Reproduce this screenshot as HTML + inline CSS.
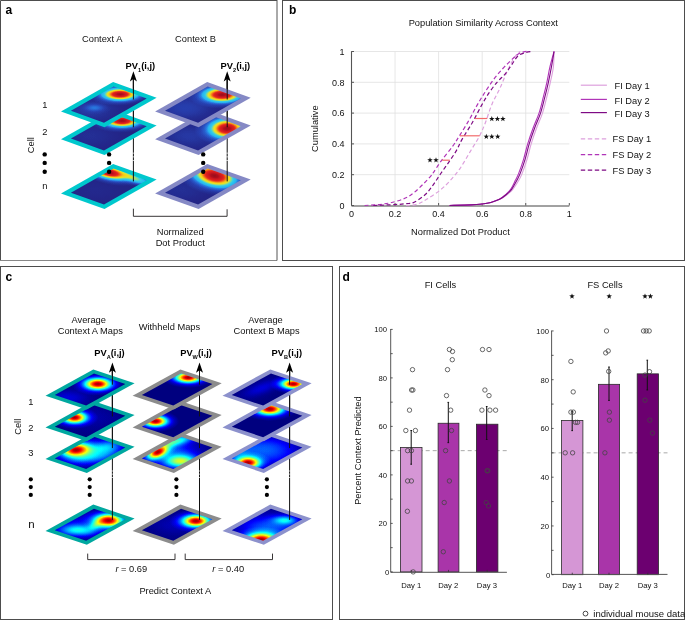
<!DOCTYPE html>
<html><head><meta charset="utf-8"><title>Figure</title>
<style>html,body{margin:0;padding:0;background:#fff;}body{width:685px;height:620px;overflow:hidden;font-family:"Liberation Sans", sans-serif;}svg{display:block;will-change:transform;}</style>
</head><body><svg width="685" height="620" viewBox="0 0 685 620" font-family='"Liberation Sans", sans-serif'><defs><filter id="jc" x="-0.2" y="-0.2" width="1.4" height="1.4" color-interpolation-filters="sRGB"><feComponentTransfer><feFuncR type="table" tableValues="0 0 0 0 0 0 0 0 0 0 0 0 0 0 0 0 0.1 0.2 0.3 0.4 0.5 0.6 0.7 0.8 0.9 1 1 1 1 1 1 1 1 1 1 1 0.9 0.8 0.7 0.6 0.5"/><feFuncG type="table" tableValues="0 0 0 0 0 0 0.1 0.2 0.3 0.4 0.5 0.6 0.7 0.8 0.9 1 1 1 1 1 1 1 1 1 1 1 0.9 0.8 0.7 0.6 0.5 0.4 0.3 0.2 0.1 0 0 0 0 0 0"/><feFuncB type="table" tableValues="0.5 0.6 0.7 0.8 0.9 1 1 1 1 1 1 1 1 1 1 1 0.9 0.8 0.7 0.6 0.5 0.4 0.3 0.2 0.1 0 0 0 0 0 0 0 0 0 0 0 0 0 0 0 0"/></feComponentTransfer></filter><filter id="ja" x="-0.2" y="-0.2" width="1.4" height="1.4" color-interpolation-filters="sRGB"><feComponentTransfer><feFuncR type="table" tableValues="0.13 0.14 0.14 0.14 0.15 0.15 0.16 0.16 0.16 0.16 0.16 0.16 0.16 0.17 0.18 0.19 0.3 0.42 0.55 0.68 0.82 0.92 0.94 0.95 0.96 0.96 0.96 0.96 0.95 0.93 0.92 0.9 0.87 0.85 0.83 0.81 0.78 0.73 0.67 0.61 0.55"/><feFuncG type="table" tableValues="0.13 0.14 0.15 0.18 0.22 0.25 0.3 0.36 0.42 0.49 0.59 0.69 0.73 0.75 0.78 0.8 0.82 0.84 0.86 0.87 0.89 0.89 0.85 0.82 0.78 0.69 0.59 0.49 0.39 0.29 0.2 0.15 0.13 0.12 0.11 0.09 0.08 0.07 0.06 0.05 0.05"/><feFuncB type="table" tableValues="0.47 0.5 0.54 0.58 0.64 0.69 0.75 0.79 0.84 0.89 0.91 0.94 0.94 0.93 0.93 0.92 0.82 0.68 0.55 0.4 0.25 0.13 0.12 0.11 0.1 0.1 0.1 0.1 0.1 0.11 0.12 0.12 0.12 0.12 0.12 0.12 0.12 0.12 0.11 0.11 0.11"/></feComponentTransfer></filter><clipPath id="cl1"><polygon points="113.63,168.44 146.69,180.37 103.97,204.56 70.91,192.63"/></clipPath><radialGradient id="gs6"><stop offset="0" stop-color="rgb(15,15,15)" stop-opacity="1.000"/><stop offset="0.1" stop-color="rgb(15,15,15)" stop-opacity="0.956"/><stop offset="0.2" stop-color="rgb(15,15,15)" stop-opacity="0.835"/><stop offset="0.3" stop-color="rgb(15,15,15)" stop-opacity="0.667"/><stop offset="0.4" stop-color="rgb(15,15,15)" stop-opacity="0.487"/><stop offset="0.5" stop-color="rgb(15,15,15)" stop-opacity="0.325"/><stop offset="0.6" stop-color="rgb(15,15,15)" stop-opacity="0.198"/><stop offset="0.7" stop-color="rgb(15,15,15)" stop-opacity="0.110"/><stop offset="0.8" stop-color="rgb(15,15,15)" stop-opacity="0.056"/><stop offset="0.9" stop-color="rgb(15,15,15)" stop-opacity="0.026"/><stop offset="1" stop-color="rgb(15,15,15)" stop-opacity="0.000"/></radialGradient><radialGradient id="gs44"><stop offset="0" stop-color="rgb(112,112,112)" stop-opacity="1.000"/><stop offset="0.1" stop-color="rgb(112,112,112)" stop-opacity="0.956"/><stop offset="0.2" stop-color="rgb(112,112,112)" stop-opacity="0.835"/><stop offset="0.3" stop-color="rgb(112,112,112)" stop-opacity="0.667"/><stop offset="0.4" stop-color="rgb(112,112,112)" stop-opacity="0.487"/><stop offset="0.5" stop-color="rgb(112,112,112)" stop-opacity="0.325"/><stop offset="0.6" stop-color="rgb(112,112,112)" stop-opacity="0.198"/><stop offset="0.7" stop-color="rgb(112,112,112)" stop-opacity="0.110"/><stop offset="0.8" stop-color="rgb(112,112,112)" stop-opacity="0.056"/><stop offset="0.9" stop-color="rgb(112,112,112)" stop-opacity="0.026"/><stop offset="1" stop-color="rgb(112,112,112)" stop-opacity="0.000"/></radialGradient><radialGradient id="gs98"><stop offset="0" stop-color="rgb(250,250,250)" stop-opacity="1.000"/><stop offset="0.1" stop-color="rgb(250,250,250)" stop-opacity="0.956"/><stop offset="0.2" stop-color="rgb(250,250,250)" stop-opacity="0.835"/><stop offset="0.3" stop-color="rgb(250,250,250)" stop-opacity="0.667"/><stop offset="0.4" stop-color="rgb(250,250,250)" stop-opacity="0.487"/><stop offset="0.5" stop-color="rgb(250,250,250)" stop-opacity="0.325"/><stop offset="0.6" stop-color="rgb(250,250,250)" stop-opacity="0.198"/><stop offset="0.7" stop-color="rgb(250,250,250)" stop-opacity="0.110"/><stop offset="0.8" stop-color="rgb(250,250,250)" stop-opacity="0.056"/><stop offset="0.9" stop-color="rgb(250,250,250)" stop-opacity="0.026"/><stop offset="1" stop-color="rgb(250,250,250)" stop-opacity="0.000"/></radialGradient><clipPath id="cl2"><polygon points="113.63,114.34 146.69,126.27 103.97,150.46 70.91,138.53"/></clipPath><radialGradient id="gs8"><stop offset="0" stop-color="rgb(20,20,20)" stop-opacity="1.000"/><stop offset="0.1" stop-color="rgb(20,20,20)" stop-opacity="0.956"/><stop offset="0.2" stop-color="rgb(20,20,20)" stop-opacity="0.835"/><stop offset="0.3" stop-color="rgb(20,20,20)" stop-opacity="0.667"/><stop offset="0.4" stop-color="rgb(20,20,20)" stop-opacity="0.487"/><stop offset="0.5" stop-color="rgb(20,20,20)" stop-opacity="0.325"/><stop offset="0.6" stop-color="rgb(20,20,20)" stop-opacity="0.198"/><stop offset="0.7" stop-color="rgb(20,20,20)" stop-opacity="0.110"/><stop offset="0.8" stop-color="rgb(20,20,20)" stop-opacity="0.056"/><stop offset="0.9" stop-color="rgb(20,20,20)" stop-opacity="0.026"/><stop offset="1" stop-color="rgb(20,20,20)" stop-opacity="0.000"/></radialGradient><radialGradient id="gs97"><stop offset="0" stop-color="rgb(247,247,247)" stop-opacity="1.000"/><stop offset="0.1" stop-color="rgb(247,247,247)" stop-opacity="0.956"/><stop offset="0.2" stop-color="rgb(247,247,247)" stop-opacity="0.835"/><stop offset="0.3" stop-color="rgb(247,247,247)" stop-opacity="0.667"/><stop offset="0.4" stop-color="rgb(247,247,247)" stop-opacity="0.487"/><stop offset="0.5" stop-color="rgb(247,247,247)" stop-opacity="0.325"/><stop offset="0.6" stop-color="rgb(247,247,247)" stop-opacity="0.198"/><stop offset="0.7" stop-color="rgb(247,247,247)" stop-opacity="0.110"/><stop offset="0.8" stop-color="rgb(247,247,247)" stop-opacity="0.056"/><stop offset="0.9" stop-color="rgb(247,247,247)" stop-opacity="0.026"/><stop offset="1" stop-color="rgb(247,247,247)" stop-opacity="0.000"/></radialGradient><clipPath id="cl3"><polygon points="113.63,86.54 146.69,98.47 103.97,122.66 70.91,110.73"/></clipPath><radialGradient id="gs10"><stop offset="0" stop-color="rgb(26,26,26)" stop-opacity="1.000"/><stop offset="0.1" stop-color="rgb(26,26,26)" stop-opacity="0.956"/><stop offset="0.2" stop-color="rgb(26,26,26)" stop-opacity="0.835"/><stop offset="0.3" stop-color="rgb(26,26,26)" stop-opacity="0.667"/><stop offset="0.4" stop-color="rgb(26,26,26)" stop-opacity="0.487"/><stop offset="0.5" stop-color="rgb(26,26,26)" stop-opacity="0.325"/><stop offset="0.6" stop-color="rgb(26,26,26)" stop-opacity="0.198"/><stop offset="0.7" stop-color="rgb(26,26,26)" stop-opacity="0.110"/><stop offset="0.8" stop-color="rgb(26,26,26)" stop-opacity="0.056"/><stop offset="0.9" stop-color="rgb(26,26,26)" stop-opacity="0.026"/><stop offset="1" stop-color="rgb(26,26,26)" stop-opacity="0.000"/></radialGradient><radialGradient id="gs22"><stop offset="0" stop-color="rgb(56,56,56)" stop-opacity="1.000"/><stop offset="0.1" stop-color="rgb(56,56,56)" stop-opacity="0.956"/><stop offset="0.2" stop-color="rgb(56,56,56)" stop-opacity="0.835"/><stop offset="0.3" stop-color="rgb(56,56,56)" stop-opacity="0.667"/><stop offset="0.4" stop-color="rgb(56,56,56)" stop-opacity="0.487"/><stop offset="0.5" stop-color="rgb(56,56,56)" stop-opacity="0.325"/><stop offset="0.6" stop-color="rgb(56,56,56)" stop-opacity="0.198"/><stop offset="0.7" stop-color="rgb(56,56,56)" stop-opacity="0.110"/><stop offset="0.8" stop-color="rgb(56,56,56)" stop-opacity="0.056"/><stop offset="0.9" stop-color="rgb(56,56,56)" stop-opacity="0.026"/><stop offset="1" stop-color="rgb(56,56,56)" stop-opacity="0.000"/></radialGradient><clipPath id="cl4"><polygon points="207.73,168.44 240.79,180.37 198.07,204.56 165.01,192.63"/></clipPath><clipPath id="cl5"><polygon points="207.73,114.34 240.79,126.27 198.07,150.46 165.01,138.53"/></clipPath><clipPath id="cl6"><polygon points="207.73,86.54 240.79,98.47 198.07,122.66 165.01,110.73"/></clipPath><radialGradient id="gs12"><stop offset="0" stop-color="rgb(31,31,31)" stop-opacity="1.000"/><stop offset="0.1" stop-color="rgb(31,31,31)" stop-opacity="0.956"/><stop offset="0.2" stop-color="rgb(31,31,31)" stop-opacity="0.835"/><stop offset="0.3" stop-color="rgb(31,31,31)" stop-opacity="0.667"/><stop offset="0.4" stop-color="rgb(31,31,31)" stop-opacity="0.487"/><stop offset="0.5" stop-color="rgb(31,31,31)" stop-opacity="0.325"/><stop offset="0.6" stop-color="rgb(31,31,31)" stop-opacity="0.198"/><stop offset="0.7" stop-color="rgb(31,31,31)" stop-opacity="0.110"/><stop offset="0.8" stop-color="rgb(31,31,31)" stop-opacity="0.056"/><stop offset="0.9" stop-color="rgb(31,31,31)" stop-opacity="0.026"/><stop offset="1" stop-color="rgb(31,31,31)" stop-opacity="0.000"/></radialGradient><clipPath id="cl7"><polygon points="93.95,508.63 125.34,519.2 86.15,540.76 54.76,530.2"/></clipPath><radialGradient id="gs36"><stop offset="0" stop-color="rgb(92,92,92)" stop-opacity="1.000"/><stop offset="0.1" stop-color="rgb(92,92,92)" stop-opacity="0.956"/><stop offset="0.2" stop-color="rgb(92,92,92)" stop-opacity="0.835"/><stop offset="0.3" stop-color="rgb(92,92,92)" stop-opacity="0.667"/><stop offset="0.4" stop-color="rgb(92,92,92)" stop-opacity="0.487"/><stop offset="0.5" stop-color="rgb(92,92,92)" stop-opacity="0.325"/><stop offset="0.6" stop-color="rgb(92,92,92)" stop-opacity="0.198"/><stop offset="0.7" stop-color="rgb(92,92,92)" stop-opacity="0.110"/><stop offset="0.8" stop-color="rgb(92,92,92)" stop-opacity="0.056"/><stop offset="0.9" stop-color="rgb(92,92,92)" stop-opacity="0.026"/><stop offset="1" stop-color="rgb(92,92,92)" stop-opacity="0.000"/></radialGradient><radialGradient id="gs40"><stop offset="0" stop-color="rgb(102,102,102)" stop-opacity="1.000"/><stop offset="0.1" stop-color="rgb(102,102,102)" stop-opacity="0.956"/><stop offset="0.2" stop-color="rgb(102,102,102)" stop-opacity="0.835"/><stop offset="0.3" stop-color="rgb(102,102,102)" stop-opacity="0.667"/><stop offset="0.4" stop-color="rgb(102,102,102)" stop-opacity="0.487"/><stop offset="0.5" stop-color="rgb(102,102,102)" stop-opacity="0.325"/><stop offset="0.6" stop-color="rgb(102,102,102)" stop-opacity="0.198"/><stop offset="0.7" stop-color="rgb(102,102,102)" stop-opacity="0.110"/><stop offset="0.8" stop-color="rgb(102,102,102)" stop-opacity="0.056"/><stop offset="0.9" stop-color="rgb(102,102,102)" stop-opacity="0.026"/><stop offset="1" stop-color="rgb(102,102,102)" stop-opacity="0.000"/></radialGradient><clipPath id="cl8"><polygon points="93.95,436.83 125.34,447.4 86.15,468.96 54.76,458.4"/></clipPath><radialGradient id="gs20"><stop offset="0" stop-color="rgb(51,51,51)" stop-opacity="1.000"/><stop offset="0.1" stop-color="rgb(51,51,51)" stop-opacity="0.956"/><stop offset="0.2" stop-color="rgb(51,51,51)" stop-opacity="0.835"/><stop offset="0.3" stop-color="rgb(51,51,51)" stop-opacity="0.667"/><stop offset="0.4" stop-color="rgb(51,51,51)" stop-opacity="0.487"/><stop offset="0.5" stop-color="rgb(51,51,51)" stop-opacity="0.325"/><stop offset="0.6" stop-color="rgb(51,51,51)" stop-opacity="0.198"/><stop offset="0.7" stop-color="rgb(51,51,51)" stop-opacity="0.110"/><stop offset="0.8" stop-color="rgb(51,51,51)" stop-opacity="0.056"/><stop offset="0.9" stop-color="rgb(51,51,51)" stop-opacity="0.026"/><stop offset="1" stop-color="rgb(51,51,51)" stop-opacity="0.000"/></radialGradient><radialGradient id="gs33"><stop offset="0" stop-color="rgb(84,84,84)" stop-opacity="1.000"/><stop offset="0.1" stop-color="rgb(84,84,84)" stop-opacity="0.956"/><stop offset="0.2" stop-color="rgb(84,84,84)" stop-opacity="0.835"/><stop offset="0.3" stop-color="rgb(84,84,84)" stop-opacity="0.667"/><stop offset="0.4" stop-color="rgb(84,84,84)" stop-opacity="0.487"/><stop offset="0.5" stop-color="rgb(84,84,84)" stop-opacity="0.325"/><stop offset="0.6" stop-color="rgb(84,84,84)" stop-opacity="0.198"/><stop offset="0.7" stop-color="rgb(84,84,84)" stop-opacity="0.110"/><stop offset="0.8" stop-color="rgb(84,84,84)" stop-opacity="0.056"/><stop offset="0.9" stop-color="rgb(84,84,84)" stop-opacity="0.026"/><stop offset="1" stop-color="rgb(84,84,84)" stop-opacity="0.000"/></radialGradient><clipPath id="cl9"><polygon points="93.95,405.13 125.34,415.7 86.15,437.26 54.76,426.7"/></clipPath><radialGradient id="gs4"><stop offset="0" stop-color="rgb(10,10,10)" stop-opacity="1.000"/><stop offset="0.1" stop-color="rgb(10,10,10)" stop-opacity="0.956"/><stop offset="0.2" stop-color="rgb(10,10,10)" stop-opacity="0.835"/><stop offset="0.3" stop-color="rgb(10,10,10)" stop-opacity="0.667"/><stop offset="0.4" stop-color="rgb(10,10,10)" stop-opacity="0.487"/><stop offset="0.5" stop-color="rgb(10,10,10)" stop-opacity="0.325"/><stop offset="0.6" stop-color="rgb(10,10,10)" stop-opacity="0.198"/><stop offset="0.7" stop-color="rgb(10,10,10)" stop-opacity="0.110"/><stop offset="0.8" stop-color="rgb(10,10,10)" stop-opacity="0.056"/><stop offset="0.9" stop-color="rgb(10,10,10)" stop-opacity="0.026"/><stop offset="1" stop-color="rgb(10,10,10)" stop-opacity="0.000"/></radialGradient><clipPath id="cl10"><polygon points="93.95,373.44 125.34,384 86.15,405.56 54.76,395"/></clipPath><radialGradient id="gs9"><stop offset="0" stop-color="rgb(23,23,23)" stop-opacity="1.000"/><stop offset="0.1" stop-color="rgb(23,23,23)" stop-opacity="0.956"/><stop offset="0.2" stop-color="rgb(23,23,23)" stop-opacity="0.835"/><stop offset="0.3" stop-color="rgb(23,23,23)" stop-opacity="0.667"/><stop offset="0.4" stop-color="rgb(23,23,23)" stop-opacity="0.487"/><stop offset="0.5" stop-color="rgb(23,23,23)" stop-opacity="0.325"/><stop offset="0.6" stop-color="rgb(23,23,23)" stop-opacity="0.198"/><stop offset="0.7" stop-color="rgb(23,23,23)" stop-opacity="0.110"/><stop offset="0.8" stop-color="rgb(23,23,23)" stop-opacity="0.056"/><stop offset="0.9" stop-color="rgb(23,23,23)" stop-opacity="0.026"/><stop offset="1" stop-color="rgb(23,23,23)" stop-opacity="0.000"/></radialGradient><clipPath id="cl11"><polygon points="181.05,508.63 212.44,519.2 173.25,540.76 141.86,530.2"/></clipPath><radialGradient id="gs5"><stop offset="0" stop-color="rgb(13,13,13)" stop-opacity="1.000"/><stop offset="0.1" stop-color="rgb(13,13,13)" stop-opacity="0.956"/><stop offset="0.2" stop-color="rgb(13,13,13)" stop-opacity="0.835"/><stop offset="0.3" stop-color="rgb(13,13,13)" stop-opacity="0.667"/><stop offset="0.4" stop-color="rgb(13,13,13)" stop-opacity="0.487"/><stop offset="0.5" stop-color="rgb(13,13,13)" stop-opacity="0.325"/><stop offset="0.6" stop-color="rgb(13,13,13)" stop-opacity="0.198"/><stop offset="0.7" stop-color="rgb(13,13,13)" stop-opacity="0.110"/><stop offset="0.8" stop-color="rgb(13,13,13)" stop-opacity="0.056"/><stop offset="0.9" stop-color="rgb(13,13,13)" stop-opacity="0.026"/><stop offset="1" stop-color="rgb(13,13,13)" stop-opacity="0.000"/></radialGradient><clipPath id="cl12"><polygon points="181.05,436.83 212.44,447.4 173.25,468.96 141.86,458.4"/></clipPath><radialGradient id="gs46"><stop offset="0" stop-color="rgb(117,117,117)" stop-opacity="1.000"/><stop offset="0.1" stop-color="rgb(117,117,117)" stop-opacity="0.956"/><stop offset="0.2" stop-color="rgb(117,117,117)" stop-opacity="0.835"/><stop offset="0.3" stop-color="rgb(117,117,117)" stop-opacity="0.667"/><stop offset="0.4" stop-color="rgb(117,117,117)" stop-opacity="0.487"/><stop offset="0.5" stop-color="rgb(117,117,117)" stop-opacity="0.325"/><stop offset="0.6" stop-color="rgb(117,117,117)" stop-opacity="0.198"/><stop offset="0.7" stop-color="rgb(117,117,117)" stop-opacity="0.110"/><stop offset="0.8" stop-color="rgb(117,117,117)" stop-opacity="0.056"/><stop offset="0.9" stop-color="rgb(117,117,117)" stop-opacity="0.026"/><stop offset="1" stop-color="rgb(117,117,117)" stop-opacity="0.000"/></radialGradient><radialGradient id="gs60"><stop offset="0" stop-color="rgb(153,153,153)" stop-opacity="1.000"/><stop offset="0.1" stop-color="rgb(153,153,153)" stop-opacity="0.956"/><stop offset="0.2" stop-color="rgb(153,153,153)" stop-opacity="0.835"/><stop offset="0.3" stop-color="rgb(153,153,153)" stop-opacity="0.667"/><stop offset="0.4" stop-color="rgb(153,153,153)" stop-opacity="0.487"/><stop offset="0.5" stop-color="rgb(153,153,153)" stop-opacity="0.325"/><stop offset="0.6" stop-color="rgb(153,153,153)" stop-opacity="0.198"/><stop offset="0.7" stop-color="rgb(153,153,153)" stop-opacity="0.110"/><stop offset="0.8" stop-color="rgb(153,153,153)" stop-opacity="0.056"/><stop offset="0.9" stop-color="rgb(153,153,153)" stop-opacity="0.026"/><stop offset="1" stop-color="rgb(153,153,153)" stop-opacity="0.000"/></radialGradient><clipPath id="cl13"><polygon points="181.05,405.13 212.44,415.7 173.25,437.26 141.86,426.7"/></clipPath><clipPath id="cl14"><polygon points="181.05,373.44 212.44,384 173.25,405.56 141.86,395"/></clipPath><clipPath id="cl15"><polygon points="270.95,508.63 302.34,519.2 263.15,540.76 231.76,530.2"/></clipPath><clipPath id="cl16"><polygon points="270.95,436.83 302.34,447.4 263.15,468.96 231.76,458.4"/></clipPath><radialGradient id="gs25"><stop offset="0" stop-color="rgb(64,64,64)" stop-opacity="1.000"/><stop offset="0.1" stop-color="rgb(64,64,64)" stop-opacity="0.956"/><stop offset="0.2" stop-color="rgb(64,64,64)" stop-opacity="0.835"/><stop offset="0.3" stop-color="rgb(64,64,64)" stop-opacity="0.667"/><stop offset="0.4" stop-color="rgb(64,64,64)" stop-opacity="0.487"/><stop offset="0.5" stop-color="rgb(64,64,64)" stop-opacity="0.325"/><stop offset="0.6" stop-color="rgb(64,64,64)" stop-opacity="0.198"/><stop offset="0.7" stop-color="rgb(64,64,64)" stop-opacity="0.110"/><stop offset="0.8" stop-color="rgb(64,64,64)" stop-opacity="0.056"/><stop offset="0.9" stop-color="rgb(64,64,64)" stop-opacity="0.026"/><stop offset="1" stop-color="rgb(64,64,64)" stop-opacity="0.000"/></radialGradient><clipPath id="cl17"><polygon points="270.95,405.13 302.34,415.7 263.15,437.26 231.76,426.7"/></clipPath><clipPath id="cl18"><polygon points="270.95,373.44 302.34,384 263.15,405.56 231.76,395"/></clipPath></defs><rect width="685" height="620" fill="#fff"/><path d="M277 0.5 H0.5 V260" fill="none" stroke="#4d4d4d" stroke-width="1"/><path d="M0 260.5 H277" fill="none" stroke="#888" stroke-width="1"/><path d="M277 260.5 V0" fill="none" stroke="#555" stroke-width="1"/><rect x="282.5" y="0.5" width="402" height="260" fill="none" stroke="#4d4d4d" stroke-width="1"/><rect x="0.5" y="266.5" width="332" height="353" fill="none" stroke="#4d4d4d" stroke-width="1"/><rect x="339.5" y="266.5" width="345" height="353" fill="none" stroke="#4d4d4d" stroke-width="1"/><text x="5.5" y="13.8" font-size="12" text-anchor="start" font-weight="bold" fill="#000" >a</text><text x="289" y="14" font-size="12" text-anchor="start" font-weight="bold" fill="#000" >b</text><text x="5.5" y="280.8" font-size="12" text-anchor="start" font-weight="bold" fill="#000" >c</text><text x="342.5" y="281.4" font-size="12" text-anchor="start" font-weight="bold" fill="#000" >d</text><polygon points="113.1,163.9 156.6,179.6 104.5,209.1 61,193.4" fill="#00c8cd"/><g clip-path="url(#cl1)"><g filter="url(#ja)"><polygon points="113.1,163.9 156.6,179.6 104.5,209.1 61,193.4" fill="rgb(8,8,8)"/><ellipse cx="95" cy="190" rx="60" ry="25" fill="url(#gs6)"/><ellipse cx="134" cy="178" rx="34" ry="9" fill="url(#gs44)" transform="rotate(19 134 178)"/><ellipse cx="109" cy="172.5" rx="35" ry="12" fill="url(#gs98)" transform="rotate(12 109 172.5)"/></g></g><line x1="133.4" y1="181.4" x2="133.4" y2="77.2" stroke="#111" stroke-width="1" /><polygon points="113.1,109.8 156.6,125.5 104.5,155 61,139.3" fill="#00c8cd"/><g clip-path="url(#cl2)"><g filter="url(#ja)"><polygon points="113.1,109.8 156.6,125.5 104.5,155 61,139.3" fill="rgb(8,8,8)"/><ellipse cx="90" cy="136" rx="60" ry="25" fill="url(#gs8)"/><ellipse cx="122.1" cy="120.8" rx="33" ry="12" fill="url(#gs97)"/></g></g><line x1="133.4" y1="127.3" x2="133.4" y2="77.2" stroke="#111" stroke-width="1" /><polygon points="113.1,82 156.6,97.7 104.5,127.2 61,111.5" fill="#00c8cd"/><g clip-path="url(#cl3)"><g filter="url(#ja)"><polygon points="113.1,82 156.6,97.7 104.5,127.2 61,111.5" fill="rgb(8,8,8)"/><ellipse cx="90" cy="110" rx="60" ry="25" fill="url(#gs10)"/><ellipse cx="94.5" cy="107.8" rx="18" ry="7" fill="url(#gs22)"/><ellipse cx="120.1" cy="94.3" rx="33" ry="11.5" fill="url(#gs97)"/></g></g><line x1="133.4" y1="99.5" x2="133.4" y2="77.2" stroke="#111" stroke-width="1" /><path d="M133.4 71.2 L136.9 81.6 L133.4 79 L129.9 81.6 Z" fill="#000"/><polygon points="207.2,163.9 250.7,179.6 198.6,209.1 155.1,193.4" fill="#8589c5"/><g clip-path="url(#cl4)"><g filter="url(#ja)"><polygon points="207.2,163.9 250.7,179.6 198.6,209.1 155.1,193.4" fill="rgb(8,8,8)"/><ellipse cx="180" cy="190" rx="60" ry="25" fill="url(#gs8)"/><ellipse cx="214.5" cy="175.8" rx="40" ry="20" fill="url(#gs98)" transform="rotate(12 214.5 175.8)"/></g></g><line x1="227.2" y1="181.4" x2="227.2" y2="77.2" stroke="#111" stroke-width="1" /><polygon points="207.2,109.8 250.7,125.5 198.6,155 155.1,139.3" fill="#8589c5"/><g clip-path="url(#cl5)"><g filter="url(#ja)"><polygon points="207.2,109.8 250.7,125.5 198.6,155 155.1,139.3" fill="rgb(8,8,8)"/><ellipse cx="190" cy="136" rx="60" ry="25" fill="url(#gs10)"/><ellipse cx="227" cy="128.6" rx="33" ry="18" fill="url(#gs98)"/></g></g><line x1="227.2" y1="127.3" x2="227.2" y2="77.2" stroke="#111" stroke-width="1" /><polygon points="207.2,82 250.7,97.7 198.6,127.2 155.1,111.5" fill="#8589c5"/><g clip-path="url(#cl6)"><g filter="url(#ja)"><polygon points="207.2,82 250.7,97.7 198.6,127.2 155.1,111.5" fill="rgb(8,8,8)"/><ellipse cx="185" cy="108" rx="60" ry="25" fill="url(#gs12)"/><ellipse cx="222" cy="94.8" rx="35" ry="14" fill="url(#gs98)"/></g></g><line x1="227.2" y1="99.5" x2="227.2" y2="77.2" stroke="#111" stroke-width="1" /><path d="M227.2 71.2 L230.7 81.6 L227.2 79 L223.7 81.6 Z" fill="#000"/><rect x="132.4" y="152.75" width="2" height="0.7" fill="#fff"/><rect x="132.4" y="156.55" width="2" height="0.7" fill="#fff"/><rect x="132.4" y="160.15" width="2" height="0.7" fill="#fff"/><rect x="226.2" y="152.75" width="2" height="0.7" fill="#fff"/><rect x="226.2" y="156.55" width="2" height="0.7" fill="#fff"/><rect x="226.2" y="160.15" width="2" height="0.7" fill="#fff"/><text x="102.2" y="41.8" font-size="9.3" text-anchor="middle" fill="#111" >Context A</text><text x="195.5" y="41.8" font-size="9.3" text-anchor="middle" fill="#111" >Context B</text><text x="125.6" y="69.3" font-size="9.3" font-weight="bold" fill="#000">PV<tspan font-size="5.6" dy="2.5">1</tspan><tspan dy="-2.5">(i,j)</tspan></text><text x="220.6" y="69.3" font-size="9.3" font-weight="bold" fill="#000">PV<tspan font-size="5.6" dy="2.5">2</tspan><tspan dy="-2.5">(i,j)</tspan></text><text x="44.8" y="108.1" font-size="9.3" text-anchor="middle" fill="#111" >1</text><text x="44.8" y="134.9" font-size="9.3" text-anchor="middle" fill="#111" >2</text><text x="44.8" y="189.1" font-size="9.3" text-anchor="middle" fill="#111" >n</text><text transform="translate(34.3,145.2) rotate(-90)" font-size="9.3" text-anchor="middle" fill="#111">Cell</text><circle cx="44.7" cy="154.4" r="2.2" fill="#000"/><circle cx="109.1" cy="154.4" r="2.2" fill="#000"/><circle cx="203.2" cy="154.4" r="2.2" fill="#000"/><circle cx="44.7" cy="162.9" r="2.2" fill="#000"/><circle cx="109.1" cy="162.9" r="2.2" fill="#000"/><circle cx="203.2" cy="162.9" r="2.2" fill="#000"/><circle cx="44.7" cy="171.7" r="2.2" fill="#000"/><circle cx="109.1" cy="171.7" r="2.2" fill="#000"/><circle cx="203.2" cy="171.7" r="2.2" fill="#000"/><path d="M133.4 208.7 V216.3 H227.1 V209.3" fill="none" stroke="#231f20" stroke-width="0.9"/><text x="180.2" y="235.2" font-size="9.3" text-anchor="middle" fill="#111" >Normalized</text><text x="180.2" y="246" font-size="9.3" text-anchor="middle" fill="#111" >Dot Product</text><line x1="395.06" y1="205.5" x2="395.06" y2="51.5" stroke="#e0e0e0" stroke-width="0.8" /><line x1="351.5" y1="174.7" x2="569.3" y2="174.7" stroke="#e0e0e0" stroke-width="0.8" /><line x1="438.62" y1="205.5" x2="438.62" y2="51.5" stroke="#e0e0e0" stroke-width="0.8" /><line x1="351.5" y1="143.9" x2="569.3" y2="143.9" stroke="#e0e0e0" stroke-width="0.8" /><line x1="482.18" y1="205.5" x2="482.18" y2="51.5" stroke="#e0e0e0" stroke-width="0.8" /><line x1="351.5" y1="113.1" x2="569.3" y2="113.1" stroke="#e0e0e0" stroke-width="0.8" /><line x1="525.74" y1="205.5" x2="525.74" y2="51.5" stroke="#e0e0e0" stroke-width="0.8" /><line x1="351.5" y1="82.3" x2="569.3" y2="82.3" stroke="#e0e0e0" stroke-width="0.8" /><line x1="351.5" y1="51.5" x2="569.3" y2="51.5" stroke="#e0e0e0" stroke-width="0.8" /><line x1="351.5" y1="51.2" x2="351.5" y2="205.5" stroke="#555" stroke-width="1.1" /><line x1="351.5" y1="206" x2="569.3" y2="206" stroke="#444" stroke-width="1" /><line x1="351.5" y1="205.5" x2="354" y2="205.5" stroke="#555" stroke-width="1" /><line x1="351.5" y1="205.5" x2="351.5" y2="203" stroke="#555" stroke-width="1" /><text x="344.5" y="208.7" font-size="9" text-anchor="end" fill="#111" >0</text><text x="351.5" y="217.2" font-size="9" text-anchor="middle" fill="#111" >0</text><line x1="351.5" y1="174.7" x2="354" y2="174.7" stroke="#555" stroke-width="1" /><line x1="395.06" y1="205.5" x2="395.06" y2="203" stroke="#555" stroke-width="1" /><text x="344.5" y="177.9" font-size="9" text-anchor="end" fill="#111" >0.2</text><text x="395.06" y="217.2" font-size="9" text-anchor="middle" fill="#111" >0.2</text><line x1="351.5" y1="143.9" x2="354" y2="143.9" stroke="#555" stroke-width="1" /><line x1="438.62" y1="205.5" x2="438.62" y2="203" stroke="#555" stroke-width="1" /><text x="344.5" y="147.1" font-size="9" text-anchor="end" fill="#111" >0.4</text><text x="438.62" y="217.2" font-size="9" text-anchor="middle" fill="#111" >0.4</text><line x1="351.5" y1="113.1" x2="354" y2="113.1" stroke="#555" stroke-width="1" /><line x1="482.18" y1="205.5" x2="482.18" y2="203" stroke="#555" stroke-width="1" /><text x="344.5" y="116.3" font-size="9" text-anchor="end" fill="#111" >0.6</text><text x="482.18" y="217.2" font-size="9" text-anchor="middle" fill="#111" >0.6</text><line x1="351.5" y1="82.3" x2="354" y2="82.3" stroke="#555" stroke-width="1" /><line x1="525.74" y1="205.5" x2="525.74" y2="203" stroke="#555" stroke-width="1" /><text x="344.5" y="85.5" font-size="9" text-anchor="end" fill="#111" >0.8</text><text x="525.74" y="217.2" font-size="9" text-anchor="middle" fill="#111" >0.8</text><line x1="351.5" y1="51.5" x2="354" y2="51.5" stroke="#555" stroke-width="1" /><line x1="569.3" y1="205.5" x2="569.3" y2="203" stroke="#555" stroke-width="1" /><text x="344.5" y="54.7" font-size="9" text-anchor="end" fill="#111" >1</text><text x="569.3" y="217.2" font-size="9" text-anchor="middle" fill="#111" >1</text><text x="483.3" y="25.6" font-size="9.3" text-anchor="middle" fill="#111" >Population Similarity Across Context</text><text transform="translate(318,128.7) rotate(-90)" font-size="9.3" text-anchor="middle" fill="#111">Cumulative</text><text x="460.4" y="235" font-size="9.3" text-anchor="middle" fill="#111" >Normalized Dot Product</text><path d="M405.95 205.5 C407.76 205.29 413.32 205.35 416.84 204.27 C420.36 203.19 423.23 201.37 427.08 199.03 C430.92 196.7 436.19 193.21 439.93 190.25 C443.67 187.3 446.17 184.94 449.51 181.32 C452.85 177.7 456.52 173.49 459.96 168.54 C463.41 163.59 466.93 157.04 470.2 151.6 C473.47 146.16 477.03 140.74 479.57 135.89 C482.11 131.04 483.38 127.78 485.45 122.49 C487.52 117.21 489.59 109.84 491.98 104.17 C494.38 98.5 497.39 93.72 499.82 88.46 C502.25 83.2 504.58 76.99 506.57 72.6 C508.57 68.21 510.06 65.21 511.8 62.13 C513.54 59.05 515.61 55.89 517.03 54.12 C518.44 52.35 519.75 51.94 520.3 51.5" fill="none" stroke="#dda0dd" stroke-width="1.2" stroke-dasharray="4 2.6"/><path d="M364.57 205.5 C367.47 205.29 376.91 204.91 381.99 204.27 C387.07 203.63 391.07 202.73 395.06 201.65 C399.05 200.57 402.76 199.34 405.95 197.8 C409.14 196.26 411.32 194.72 414.23 192.41 C417.13 190.1 420.69 186.58 423.37 183.94 C426.06 181.3 428.67 178.45 430.34 176.55 C432.01 174.65 431.54 175.21 433.39 172.54 C435.24 169.87 438.22 164.95 441.45 160.53 C444.68 156.12 449.84 150.09 452.78 146.06 C455.72 142.03 456.48 140.51 459.09 136.35 C461.71 132.2 465.59 126.06 468.46 121.11 C471.33 116.15 473.69 111.23 476.3 106.63 C478.91 102.04 481.27 98.03 484.14 93.54 C487.01 89.05 490.42 83.81 493.51 79.68 C496.59 75.55 499.82 71.88 502.65 68.75 C505.48 65.62 508.1 63.2 510.49 60.89 C512.89 58.58 514.85 56.4 517.03 54.89 C519.21 53.37 521.38 52.37 523.56 51.81 C525.74 51.24 529.01 51.55 530.1 51.5" fill="none" stroke="#b034b8" stroke-width="1.2" stroke-dasharray="4 2.6"/><path d="M373.28 205.5 C376.91 205.35 389.62 204.88 395.06 204.58 C400.5 204.27 402.76 204.04 405.95 203.65 C409.14 203.27 410.96 203.83 414.23 202.27 C417.49 200.7 422.36 197.21 425.55 194.26 C428.75 191.31 430.85 188.02 433.39 184.56 C435.93 181.09 438.22 177.22 440.8 173.47 C443.38 169.72 446.28 165.84 448.86 162.07 C451.43 158.3 454.08 154.58 456.26 150.83 C458.44 147.08 459.24 144.31 461.92 139.59 C464.61 134.87 469.11 128.19 472.38 122.49 C475.65 116.8 478.7 110.43 481.53 105.4 C484.36 100.37 486.72 96.24 489.37 92.31 C492.02 88.38 494.78 84.92 497.43 81.84 C500.08 78.76 502.87 76.7 505.27 73.83 C507.66 70.96 509.62 67.62 511.8 64.59 C513.98 61.56 515.94 57.69 518.33 55.66 C520.73 53.63 524 53.12 526.18 52.42 C528.35 51.73 530.53 51.65 531.4 51.5" fill="none" stroke="#7e0a84" stroke-width="1.2" stroke-dasharray="4 2.6"/><path d="M449.51 205.5 C453.15 205.4 465.87 205.14 471.34 204.88 C476.8 204.63 479 204.37 482.3 203.96 C485.6 203.55 488.16 203.19 491.13 202.42 C494.09 201.65 497.44 200.62 500.07 199.34 C502.71 198.06 504.84 196.39 506.96 194.72 C509.09 193.05 510.82 191.77 512.82 189.33 C514.82 186.89 517.4 182.78 518.97 180.09 C520.54 177.4 520.91 176.62 522.26 173.16 C523.6 169.69 525.56 164.18 527.05 159.3 C528.54 154.42 529.62 149.03 531.18 143.9 C532.75 138.77 534.52 133.63 536.41 128.5 C538.3 123.37 540.8 118.23 542.51 113.1 C544.22 107.97 545.34 102.83 546.65 97.7 C547.96 92.57 549.23 87.43 550.35 82.3 C551.48 77.17 552.78 72.03 553.4 66.9 C554.02 61.77 553.95 54.07 554.05 51.5" fill="none" stroke="#dda0dd" stroke-width="1.1"/><path d="M449.51 205.5 C453.13 205.4 465.82 205.14 471.25 204.88 C476.68 204.63 478.85 204.37 482.09 203.96 C485.33 203.55 487.85 203.19 490.71 202.42 C493.57 201.65 496.77 200.62 499.24 199.34 C501.7 198.06 503.6 196.39 505.5 194.72 C507.4 193.05 508.95 191.77 510.62 189.33 C512.29 186.89 514.16 182.78 515.52 180.09 C516.88 177.4 517.43 176.62 518.77 173.16 C520.11 169.69 522.07 164.18 523.56 159.3 C525.05 154.42 526.14 149.03 527.7 143.9 C529.26 138.77 531.04 133.63 532.93 128.5 C534.82 123.37 537.32 118.23 539.03 113.1 C540.73 107.97 541.86 102.83 543.16 97.7 C544.47 92.57 545.74 87.43 546.87 82.3 C547.99 77.17 548.72 72.03 549.92 66.9 C551.11 61.77 553.36 54.07 554.05 51.5" fill="none" stroke="#b034b8" stroke-width="1.1"/><path d="M449.51 205.5 C453.14 205.4 465.85 205.14 471.29 204.88 C476.74 204.63 478.91 204.37 482.18 203.96 C485.45 203.55 487.99 203.19 490.89 202.42 C493.8 201.65 497.06 200.62 499.6 199.34 C502.15 198.06 504.14 196.39 506.14 194.72 C508.13 193.05 509.77 191.77 511.58 189.33 C513.4 186.89 515.58 182.78 517.03 180.09 C518.48 177.4 518.95 176.62 520.3 173.16 C521.64 169.69 523.6 164.18 525.09 159.3 C526.57 154.42 527.66 149.03 529.22 143.9 C530.79 138.77 532.56 133.63 534.45 128.5 C536.34 123.37 538.84 118.23 540.55 113.1 C542.26 107.97 543.38 102.83 544.69 97.7 C546 92.57 547.27 87.43 548.39 82.3 C549.52 77.17 550.5 72.03 551.44 66.9 C552.38 61.77 553.62 54.07 554.05 51.5" fill="none" stroke="#7e0a84" stroke-width="1.1"/><line x1="474.8" y1="118.5" x2="487.3" y2="118.5" stroke="#f26b6b" stroke-width="1.2" /><line x1="459.9" y1="135.8" x2="479.6" y2="135.8" stroke="#f26b6b" stroke-width="1.2" /><line x1="442.2" y1="160.2" x2="449.8" y2="160.2" stroke="#f26b6b" stroke-width="1.2" /><polygon points="491.8,116 492.51,117.93 494.56,118 492.94,119.27 493.5,121.25 491.8,120.1 490.1,121.25 490.66,119.27 489.04,118 491.09,117.93" fill="#111"/><polygon points="497.4,116 498.11,117.93 500.16,118 498.54,119.27 499.1,121.25 497.4,120.1 495.7,121.25 496.26,119.27 494.64,118 496.69,117.93" fill="#111"/><polygon points="502.9,116 503.61,117.93 505.66,118 504.04,119.27 504.6,121.25 502.9,120.1 501.2,121.25 501.76,119.27 500.14,118 502.19,117.93" fill="#111"/><polygon points="486.3,133.7 487.01,135.63 489.06,135.7 487.44,136.97 488,138.95 486.3,137.8 484.6,138.95 485.16,136.97 483.54,135.7 485.59,135.63" fill="#111"/><polygon points="491.8,133.7 492.51,135.63 494.56,135.7 492.94,136.97 493.5,138.95 491.8,137.8 490.1,138.95 490.66,136.97 489.04,135.7 491.09,135.63" fill="#111"/><polygon points="497.7,133.7 498.41,135.63 500.46,135.7 498.84,136.97 499.4,138.95 497.7,137.8 496,138.95 496.56,136.97 494.94,135.7 496.99,135.63" fill="#111"/><polygon points="430,157.2 430.71,159.13 432.76,159.2 431.14,160.47 431.7,162.45 430,161.3 428.3,162.45 428.86,160.47 427.24,159.2 429.29,159.13" fill="#111"/><polygon points="436,157.2 436.71,159.13 438.76,159.2 437.14,160.47 437.7,162.45 436,161.3 434.3,162.45 434.86,160.47 433.24,159.2 435.29,159.13" fill="#111"/><line x1="580.8" y1="85.2" x2="606.9" y2="85.2" stroke="#dda0dd" stroke-width="1.2" /><text x="614.5" y="89.3" font-size="9.3" text-anchor="start" fill="#111" >FI Day 1</text><line x1="580.8" y1="99.4" x2="606.9" y2="99.4" stroke="#b034b8" stroke-width="1.2" /><text x="614.5" y="103.5" font-size="9.3" text-anchor="start" fill="#111" >FI Day 2</text><line x1="580.8" y1="112.6" x2="606.9" y2="112.6" stroke="#7e0a84" stroke-width="1.2" /><text x="614.5" y="116.7" font-size="9.3" text-anchor="start" fill="#111" >FI Day 3</text><line x1="580.8" y1="138.8" x2="606.9" y2="138.8" stroke="#dda0dd" stroke-width="1.2" stroke-dasharray="4.4 2.6"/><text x="612.5" y="142.2" font-size="9.3" text-anchor="start" fill="#111" >FS Day 1</text><line x1="580.8" y1="154.6" x2="606.9" y2="154.6" stroke="#b034b8" stroke-width="1.2" stroke-dasharray="4.4 2.6"/><text x="612.5" y="158" font-size="9.3" text-anchor="start" fill="#111" >FS Day 2</text><line x1="580.8" y1="170.2" x2="606.9" y2="170.2" stroke="#7e0a84" stroke-width="1.2" stroke-dasharray="4.4 2.6"/><text x="612.5" y="173.6" font-size="9.3" text-anchor="start" fill="#111" >FS Day 3</text><polygon points="93.3,504.6 134.6,518.5 86.8,544.8 45.5,530.9" fill="#00a8a0"/><g clip-path="url(#cl7)"><g filter="url(#jc)"><polygon points="93.3,504.6 134.6,518.5 86.8,544.8 45.5,530.9" fill="rgb(0,0,0)"/><ellipse cx="85" cy="525" rx="60" ry="25" fill="url(#gs12)"/><ellipse cx="96" cy="525" rx="22" ry="8" fill="url(#gs36)" transform="rotate(-30 96 525)"/><ellipse cx="78" cy="530" rx="36" ry="11" fill="url(#gs40)"/><ellipse cx="108.6" cy="520.5" rx="28" ry="13" fill="url(#gs97)"/></g></g><line x1="112.4" y1="519.9" x2="112.4" y2="368.4" stroke="#111" stroke-width="1" /><polygon points="93.3,432.8 134.6,446.7 86.8,473 45.5,459.1" fill="#00a8a0"/><g clip-path="url(#cl8)"><g filter="url(#jc)"><polygon points="93.3,432.8 134.6,446.7 86.8,473 45.5,459.1" fill="rgb(0,0,0)"/><ellipse cx="90" cy="452" rx="60" ry="25" fill="url(#gs20)"/><ellipse cx="90" cy="456" rx="40" ry="12" fill="url(#gs33)" transform="rotate(-10 90 456)"/><ellipse cx="103" cy="449" rx="34" ry="14" fill="url(#gs36)" transform="rotate(-15 103 449)"/><ellipse cx="76.3" cy="450" rx="28" ry="13" fill="url(#gs97)" transform="rotate(-5 76.3 450)"/></g></g><line x1="112.4" y1="448.1" x2="112.4" y2="368.4" stroke="#111" stroke-width="1" /><polygon points="93.3,401.1 134.6,415 86.8,441.3 45.5,427.4" fill="#00a8a0"/><g clip-path="url(#cl9)"><g filter="url(#jc)"><polygon points="93.3,401.1 134.6,415 86.8,441.3 45.5,427.4" fill="rgb(0,0,0)"/><ellipse cx="90" cy="418" rx="60" ry="25" fill="url(#gs4)"/><ellipse cx="74.5" cy="417.5" rx="24" ry="11.5" fill="url(#gs97)"/></g></g><line x1="112.4" y1="416.4" x2="112.4" y2="368.4" stroke="#111" stroke-width="1" /><polygon points="93.3,369.4 134.6,383.3 86.8,409.6 45.5,395.7" fill="#00a8a0"/><g clip-path="url(#cl10)"><g filter="url(#jc)"><polygon points="93.3,369.4 134.6,383.3 86.8,409.6 45.5,395.7" fill="rgb(0,0,0)"/><ellipse cx="68" cy="398" rx="40" ry="16" fill="url(#gs9)"/><ellipse cx="97.8" cy="384" rx="27" ry="11.8" fill="url(#gs97)"/></g></g><line x1="112.4" y1="384.7" x2="112.4" y2="368.4" stroke="#111" stroke-width="1" /><path d="M112.4 362.4 L115.9 372.8 L112.4 370.2 L108.9 372.8 Z" fill="#000"/><polygon points="180.4,504.6 221.7,518.5 173.9,544.8 132.6,530.9" fill="#8c8c8c"/><g clip-path="url(#cl11)"><g filter="url(#jc)"><polygon points="180.4,504.6 221.7,518.5 173.9,544.8 132.6,530.9" fill="rgb(0,0,0)"/><ellipse cx="175" cy="525" rx="50" ry="20" fill="url(#gs5)"/><ellipse cx="195.9" cy="521" rx="27" ry="12" fill="url(#gs97)"/></g></g><line x1="199.5" y1="519.9" x2="199.5" y2="368.4" stroke="#111" stroke-width="1" /><polygon points="180.4,432.8 221.7,446.7 173.9,473 132.6,459.1" fill="#8c8c8c"/><g clip-path="url(#cl12)"><g filter="url(#jc)"><polygon points="180.4,432.8 221.7,446.7 173.9,473 132.6,459.1" fill="rgb(0,0,0)"/><ellipse cx="170" cy="452" rx="55" ry="25" fill="url(#gs20)"/><ellipse cx="174" cy="442" rx="40" ry="10" fill="url(#gs46)" transform="rotate(-15 174 442)"/><ellipse cx="180.5" cy="461" rx="32" ry="13" fill="url(#gs60)"/><ellipse cx="158" cy="452" rx="21" ry="11" fill="url(#gs97)" transform="rotate(-25 158 452)"/></g></g><line x1="199.5" y1="448.1" x2="199.5" y2="368.4" stroke="#111" stroke-width="1" /><polygon points="180.4,401.1 221.7,415 173.9,441.3 132.6,427.4" fill="#8c8c8c"/><g clip-path="url(#cl13)"><g filter="url(#jc)"><polygon points="180.4,401.1 221.7,415 173.9,441.3 132.6,427.4" fill="rgb(0,0,0)"/><ellipse cx="155.4" cy="421.2" rx="24" ry="11" fill="url(#gs97)"/></g></g><line x1="199.5" y1="416.4" x2="199.5" y2="368.4" stroke="#111" stroke-width="1" /><polygon points="180.4,369.4 221.7,383.3 173.9,409.6 132.6,395.7" fill="#8c8c8c"/><g clip-path="url(#cl14)"><g filter="url(#jc)"><polygon points="180.4,369.4 221.7,383.3 173.9,409.6 132.6,395.7" fill="rgb(0,0,0)"/><ellipse cx="188.2" cy="377.5" rx="26" ry="10.5" fill="url(#gs97)"/></g></g><line x1="199.5" y1="384.7" x2="199.5" y2="368.4" stroke="#111" stroke-width="1" /><path d="M199.5 362.4 L203 372.8 L199.5 370.2 L196 372.8 Z" fill="#000"/><polygon points="270.3,504.6 311.6,518.5 263.8,544.8 222.5,530.9" fill="#8c91cc"/><g clip-path="url(#cl15)"><g filter="url(#jc)"><polygon points="270.3,504.6 311.6,518.5 263.8,544.8 222.5,530.9" fill="rgb(0,0,0)"/><ellipse cx="268" cy="528" rx="60" ry="25" fill="url(#gs22)"/><ellipse cx="284.4" cy="520.5" rx="24" ry="9" fill="url(#gs40)"/><ellipse cx="261.1" cy="539.5" rx="30" ry="13" fill="url(#gs97)"/></g></g><line x1="289.6" y1="519.9" x2="289.6" y2="368.4" stroke="#111" stroke-width="1" /><polygon points="270.3,432.8 311.6,446.7 263.8,473 222.5,459.1" fill="#8c91cc"/><g clip-path="url(#cl16)"><g filter="url(#jc)"><polygon points="270.3,432.8 311.6,446.7 263.8,473 222.5,459.1" fill="rgb(0,0,0)"/><ellipse cx="265" cy="452" rx="70" ry="30" fill="url(#gs12)"/><ellipse cx="264" cy="450" rx="50" ry="22" fill="url(#gs22)"/><ellipse cx="240" cy="452" rx="30" ry="15" fill="url(#gs25)"/><ellipse cx="248" cy="462.6" rx="24" ry="11.5" fill="url(#gs97)"/></g></g><line x1="289.6" y1="448.1" x2="289.6" y2="368.4" stroke="#111" stroke-width="1" /><polygon points="270.3,401.1 311.6,415 263.8,441.3 222.5,427.4" fill="#8c91cc"/><g clip-path="url(#cl17)"><g filter="url(#jc)"><polygon points="270.3,401.1 311.6,415 263.8,441.3 222.5,427.4" fill="rgb(0,0,0)"/><ellipse cx="269.7" cy="409" rx="28" ry="12" fill="url(#gs97)"/></g></g><line x1="289.6" y1="416.4" x2="289.6" y2="368.4" stroke="#111" stroke-width="1" /><polygon points="270.3,369.4 311.6,383.3 263.8,409.6 222.5,395.7" fill="#8c91cc"/><g clip-path="url(#cl18)"><g filter="url(#jc)"><polygon points="270.3,369.4 311.6,383.3 263.8,409.6 222.5,395.7" fill="rgb(0,0,0)"/><ellipse cx="262" cy="388" rx="40" ry="12" fill="url(#gs9)" transform="rotate(-20 262 388)"/><ellipse cx="293.3" cy="384" rx="24" ry="10" fill="url(#gs97)"/></g></g><line x1="289.6" y1="384.7" x2="289.6" y2="368.4" stroke="#111" stroke-width="1" /><path d="M289.6 362.4 L293.1 372.8 L289.6 370.2 L286.1 372.8 Z" fill="#000"/><rect x="111.4" y="470.65" width="2" height="0.7" fill="#fff"/><rect x="111.4" y="473.75" width="2" height="0.7" fill="#fff"/><rect x="111.4" y="477.15" width="2" height="0.7" fill="#fff"/><rect x="198.5" y="470.65" width="2" height="0.7" fill="#fff"/><rect x="198.5" y="473.75" width="2" height="0.7" fill="#fff"/><rect x="198.5" y="477.15" width="2" height="0.7" fill="#fff"/><rect x="288.6" y="470.65" width="2" height="0.7" fill="#fff"/><rect x="288.6" y="473.75" width="2" height="0.7" fill="#fff"/><rect x="288.6" y="477.15" width="2" height="0.7" fill="#fff"/><text x="88.7" y="323.2" font-size="9.3" text-anchor="middle" fill="#111" >Average</text><text x="90.3" y="334.3" font-size="9.3" text-anchor="middle" fill="#111" >Context A Maps</text><text x="169.4" y="330.2" font-size="9.3" text-anchor="middle" fill="#111" >Withheld Maps</text><text x="265.5" y="323.2" font-size="9.3" text-anchor="middle" fill="#111" >Average</text><text x="266.6" y="334.3" font-size="9.3" text-anchor="middle" fill="#111" >Context B Maps</text><text x="94.3" y="356.2" font-size="9.3" font-weight="bold" fill="#000">PV<tspan font-size="5.6" dy="2.5">A</tspan><tspan dy="-2.5">(i,j)</tspan></text><text x="180.2" y="356.2" font-size="9.3" font-weight="bold" fill="#000">PV<tspan font-size="5.6" dy="2.5">W</tspan><tspan dy="-2.5">(i,j)</tspan></text><text x="271.6" y="356.2" font-size="9.3" font-weight="bold" fill="#000">PV<tspan font-size="5.6" dy="2.5">B</tspan><tspan dy="-2.5">(i,j)</tspan></text><text x="30.8" y="404.9" font-size="9.3" text-anchor="middle" fill="#111" >1</text><text x="30.8" y="430.5" font-size="9.3" text-anchor="middle" fill="#111" >2</text><text x="30.8" y="456.3" font-size="9.3" text-anchor="middle" fill="#111" >3</text><text x="31.4" y="527.6" font-size="11.5" text-anchor="middle" fill="#111" >n</text><text transform="translate(21.1,426.8) rotate(-90)" font-size="9.3" text-anchor="middle" fill="#111">Cell</text><circle cx="30.8" cy="479.3" r="2.1" fill="#000"/><circle cx="89.7" cy="479.3" r="2.1" fill="#000"/><circle cx="176.4" cy="479.3" r="2.1" fill="#000"/><circle cx="266.9" cy="479.3" r="2.1" fill="#000"/><circle cx="30.8" cy="487.1" r="2.1" fill="#000"/><circle cx="89.7" cy="487.1" r="2.1" fill="#000"/><circle cx="176.4" cy="487.1" r="2.1" fill="#000"/><circle cx="266.9" cy="487.1" r="2.1" fill="#000"/><circle cx="30.8" cy="494.9" r="2.1" fill="#000"/><circle cx="89.7" cy="494.9" r="2.1" fill="#000"/><circle cx="176.4" cy="494.9" r="2.1" fill="#000"/><circle cx="266.9" cy="494.9" r="2.1" fill="#000"/><path d="M87.7 553.6 V559.6 H175 V553.6 M185.2 553.6 V559.6 H272.5 V553.6" fill="none" stroke="#231f20" stroke-width="0.9"/><text x="131.3" y="572.2" font-size="9.3" text-anchor="middle" fill="#111"><tspan font-style="italic">r</tspan> = 0.69</text><text x="228.2" y="572.2" font-size="9.3" text-anchor="middle" fill="#111"><tspan font-style="italic">r</tspan> = 0.40</text><text x="175.3" y="594.3" font-size="9.3" text-anchor="middle" fill="#111" >Predict Context A</text><line x1="390.7" y1="450.65" x2="506.9" y2="450.65" stroke="#a0a0a0" stroke-width="0.9" stroke-dasharray="4 3"/><rect x="400.4" y="447.5" width="21.6" height="124.4" fill="#d596d5" stroke="#2a2a2a" stroke-width="0.8"/><rect x="438.1" y="423.25" width="20.8" height="148.65" fill="#a935a9" stroke="#2a2a2a" stroke-width="0.8"/><rect x="476.4" y="424.22" width="21.5" height="147.68" fill="#6c0070" stroke="#2a2a2a" stroke-width="0.8"/><line x1="411.2" y1="430.52" x2="411.2" y2="464.23" stroke="#111" stroke-width="1" /><line x1="410.4" y1="430.52" x2="412" y2="430.52" stroke="#111" stroke-width="1" /><line x1="410.4" y1="464.23" x2="412" y2="464.23" stroke="#111" stroke-width="1" /><line x1="448.3" y1="402.39" x2="448.3" y2="442.65" stroke="#111" stroke-width="1" /><line x1="447.5" y1="402.39" x2="449.1" y2="402.39" stroke="#111" stroke-width="1" /><line x1="447.5" y1="442.65" x2="449.1" y2="442.65" stroke="#111" stroke-width="1" /><line x1="486.7" y1="406.51" x2="486.7" y2="439.5" stroke="#111" stroke-width="1" /><line x1="485.9" y1="406.51" x2="487.5" y2="406.51" stroke="#111" stroke-width="1" /><line x1="485.9" y1="439.5" x2="487.5" y2="439.5" stroke="#111" stroke-width="1" /><circle cx="412.5" cy="369.65" r="2.2" fill="none" stroke="#444" stroke-width="0.8"/><circle cx="411.6" cy="390.02" r="2.2" fill="none" stroke="#444" stroke-width="0.8"/><circle cx="412.9" cy="390.02" r="2.2" fill="none" stroke="#444" stroke-width="0.8"/><circle cx="409.5" cy="410.15" r="2.2" fill="none" stroke="#444" stroke-width="0.8"/><circle cx="405.8" cy="430.52" r="2.2" fill="none" stroke="#444" stroke-width="0.8"/><circle cx="415.4" cy="430.52" r="2.2" fill="none" stroke="#444" stroke-width="0.8"/><circle cx="407.6" cy="450.65" r="2.2" fill="none" stroke="#444" stroke-width="0.8"/><circle cx="411.4" cy="450.65" r="2.2" fill="none" stroke="#444" stroke-width="0.8"/><circle cx="407.6" cy="480.96" r="2.2" fill="none" stroke="#444" stroke-width="0.8"/><circle cx="411.4" cy="480.96" r="2.2" fill="none" stroke="#444" stroke-width="0.8"/><circle cx="407.4" cy="511.27" r="2.2" fill="none" stroke="#444" stroke-width="0.8"/><circle cx="413.2" cy="571.9" r="2.2" fill="none" stroke="#444" stroke-width="0.8"/><circle cx="449.4" cy="349.53" r="2.2" fill="none" stroke="#444" stroke-width="0.8"/><circle cx="452.5" cy="351.47" r="2.2" fill="none" stroke="#444" stroke-width="0.8"/><circle cx="452.3" cy="359.71" r="2.2" fill="none" stroke="#444" stroke-width="0.8"/><circle cx="447.5" cy="369.65" r="2.2" fill="none" stroke="#444" stroke-width="0.8"/><circle cx="446.5" cy="395.6" r="2.2" fill="none" stroke="#444" stroke-width="0.8"/><circle cx="450.7" cy="410.15" r="2.2" fill="none" stroke="#444" stroke-width="0.8"/><circle cx="451.5" cy="430.52" r="2.2" fill="none" stroke="#444" stroke-width="0.8"/><circle cx="445.6" cy="450.65" r="2.2" fill="none" stroke="#444" stroke-width="0.8"/><circle cx="449.4" cy="480.96" r="2.2" fill="none" stroke="#444" stroke-width="0.8"/><circle cx="444.2" cy="502.54" r="2.2" fill="none" stroke="#444" stroke-width="0.8"/><circle cx="443.3" cy="551.77" r="2.2" fill="none" stroke="#444" stroke-width="0.8"/><circle cx="482.5" cy="349.53" r="2.2" fill="none" stroke="#444" stroke-width="0.8"/><circle cx="489" cy="349.53" r="2.2" fill="none" stroke="#444" stroke-width="0.8"/><circle cx="484.9" cy="390.02" r="2.2" fill="none" stroke="#444" stroke-width="0.8"/><circle cx="489" cy="395.6" r="2.2" fill="none" stroke="#444" stroke-width="0.8"/><circle cx="481.9" cy="410.15" r="2.2" fill="none" stroke="#444" stroke-width="0.8"/><circle cx="489.9" cy="410.15" r="2.2" fill="none" stroke="#444" stroke-width="0.8"/><circle cx="495.6" cy="410.15" r="2.2" fill="none" stroke="#444" stroke-width="0.8"/><circle cx="487.1" cy="470.78" r="2.2" fill="none" stroke="#444" stroke-width="0.8"/><circle cx="487.8" cy="470.78" r="2.2" fill="none" stroke="#444" stroke-width="0.8"/><circle cx="486.2" cy="502.54" r="2.2" fill="none" stroke="#444" stroke-width="0.8"/><circle cx="488.5" cy="505.94" r="2.2" fill="none" stroke="#444" stroke-width="0.8"/><line x1="390.7" y1="329" x2="390.7" y2="572.3" stroke="#444" stroke-width="0.9" /><line x1="390.7" y1="572.3" x2="506.9" y2="572.3" stroke="#555" stroke-width="1" /><line x1="390.7" y1="571.9" x2="392.7" y2="571.9" stroke="#333" stroke-width="0.8" /><text x="389.3" y="574.7" font-size="7.7" text-anchor="end" fill="#111" >0</text><line x1="390.7" y1="547.65" x2="392.7" y2="547.65" stroke="#333" stroke-width="0.8" /><line x1="390.7" y1="523.4" x2="392.7" y2="523.4" stroke="#333" stroke-width="0.8" /><text x="387" y="526.2" font-size="7.7" text-anchor="end" fill="#111" >20</text><line x1="390.7" y1="499.15" x2="392.7" y2="499.15" stroke="#333" stroke-width="0.8" /><line x1="390.7" y1="474.9" x2="392.7" y2="474.9" stroke="#333" stroke-width="0.8" /><text x="387" y="477.7" font-size="7.7" text-anchor="end" fill="#111" >40</text><line x1="390.7" y1="450.65" x2="392.7" y2="450.65" stroke="#333" stroke-width="0.8" /><line x1="390.7" y1="426.4" x2="392.7" y2="426.4" stroke="#333" stroke-width="0.8" /><text x="387" y="429.2" font-size="7.7" text-anchor="end" fill="#111" >60</text><line x1="390.7" y1="402.15" x2="392.7" y2="402.15" stroke="#333" stroke-width="0.8" /><line x1="390.7" y1="377.9" x2="392.7" y2="377.9" stroke="#333" stroke-width="0.8" /><text x="387" y="380.7" font-size="7.7" text-anchor="end" fill="#111" >80</text><line x1="390.7" y1="353.65" x2="392.7" y2="353.65" stroke="#333" stroke-width="0.8" /><line x1="390.7" y1="329.4" x2="392.7" y2="329.4" stroke="#333" stroke-width="0.8" /><text x="387" y="332.2" font-size="7.7" text-anchor="end" fill="#111" >100</text><line x1="411.2" y1="571.9" x2="411.2" y2="569.9" stroke="#333" stroke-width="0.8" /><line x1="448.5" y1="571.9" x2="448.5" y2="569.9" stroke="#333" stroke-width="0.8" /><line x1="487.15" y1="571.9" x2="487.15" y2="569.9" stroke="#333" stroke-width="0.8" /><line x1="551.6" y1="452.83" x2="667.5" y2="452.83" stroke="#a0a0a0" stroke-width="0.9" stroke-dasharray="4 3"/><rect x="561.6" y="420.41" width="21.3" height="154.29" fill="#d596d5" stroke="#2a2a2a" stroke-width="0.8"/><rect x="598.4" y="384.33" width="21.2" height="190.37" fill="#a935a9" stroke="#2a2a2a" stroke-width="0.8"/><rect x="637.2" y="373.85" width="21.3" height="200.85" fill="#6c0070" stroke="#2a2a2a" stroke-width="0.8"/><line x1="572.2" y1="411.63" x2="572.2" y2="430.64" stroke="#111" stroke-width="1" /><line x1="571.4" y1="411.63" x2="573" y2="411.63" stroke="#111" stroke-width="1" /><line x1="571.4" y1="430.64" x2="573" y2="430.64" stroke="#111" stroke-width="1" /><line x1="609" y1="367.03" x2="609" y2="400.42" stroke="#111" stroke-width="1" /><line x1="608.2" y1="367.03" x2="609.8" y2="367.03" stroke="#111" stroke-width="1" /><line x1="608.2" y1="400.42" x2="609.8" y2="400.42" stroke="#111" stroke-width="1" /><line x1="647.3" y1="360.2" x2="647.3" y2="389.94" stroke="#111" stroke-width="1" /><line x1="646.5" y1="360.2" x2="648.1" y2="360.2" stroke="#111" stroke-width="1" /><line x1="646.5" y1="389.94" x2="648.1" y2="389.94" stroke="#111" stroke-width="1" /><circle cx="570.9" cy="361.42" r="2.2" fill="none" stroke="#444" stroke-width="0.8"/><circle cx="573.2" cy="391.89" r="2.2" fill="none" stroke="#444" stroke-width="0.8"/><circle cx="570.9" cy="412.12" r="2.2" fill="none" stroke="#444" stroke-width="0.8"/><circle cx="573.4" cy="412.12" r="2.2" fill="none" stroke="#444" stroke-width="0.8"/><circle cx="575.5" cy="422.36" r="2.2" fill="none" stroke="#444" stroke-width="0.8"/><circle cx="577.5" cy="422.36" r="2.2" fill="none" stroke="#444" stroke-width="0.8"/><circle cx="565.2" cy="452.83" r="2.2" fill="none" stroke="#444" stroke-width="0.8"/><circle cx="572.6" cy="452.83" r="2.2" fill="none" stroke="#444" stroke-width="0.8"/><circle cx="606.5" cy="330.95" r="2.2" fill="none" stroke="#444" stroke-width="0.8"/><circle cx="605.7" cy="352.89" r="2.2" fill="none" stroke="#444" stroke-width="0.8"/><circle cx="608.2" cy="350.94" r="2.2" fill="none" stroke="#444" stroke-width="0.8"/><circle cx="608.7" cy="371.41" r="2.2" fill="none" stroke="#444" stroke-width="0.8"/><circle cx="609.4" cy="412.12" r="2.2" fill="none" stroke="#444" stroke-width="0.8"/><circle cx="609.4" cy="420.16" r="2.2" fill="none" stroke="#444" stroke-width="0.8"/><circle cx="604.9" cy="452.83" r="2.2" fill="none" stroke="#444" stroke-width="0.8"/><circle cx="643.5" cy="330.95" r="2.2" fill="none" stroke="#444" stroke-width="0.8"/><circle cx="646.2" cy="330.95" r="2.2" fill="none" stroke="#444" stroke-width="0.8"/><circle cx="649.2" cy="330.95" r="2.2" fill="none" stroke="#444" stroke-width="0.8"/><circle cx="649.5" cy="371.66" r="2.2" fill="none" stroke="#444" stroke-width="0.8"/><circle cx="645" cy="375.07" r="2.2" fill="none" stroke="#444" stroke-width="0.8"/><circle cx="645" cy="400.18" r="2.2" fill="none" stroke="#444" stroke-width="0.8"/><circle cx="649.8" cy="420.16" r="2.2" fill="none" stroke="#444" stroke-width="0.8"/><circle cx="652.4" cy="433.08" r="2.2" fill="none" stroke="#444" stroke-width="0.8"/><line x1="551.6" y1="330.55" x2="551.6" y2="574.4" stroke="#444" stroke-width="0.9" /><line x1="551.6" y1="574.4" x2="667.5" y2="574.4" stroke="#555" stroke-width="1" /><line x1="551.6" y1="574.7" x2="553.6" y2="574.7" stroke="#333" stroke-width="0.8" /><text x="550.2" y="577.5" font-size="7.7" text-anchor="end" fill="#111" >0</text><line x1="551.6" y1="550.33" x2="553.6" y2="550.33" stroke="#333" stroke-width="0.8" /><line x1="551.6" y1="525.95" x2="553.6" y2="525.95" stroke="#333" stroke-width="0.8" /><text x="549" y="528.75" font-size="7.7" text-anchor="end" fill="#111" >20</text><line x1="551.6" y1="501.58" x2="553.6" y2="501.58" stroke="#333" stroke-width="0.8" /><line x1="551.6" y1="477.2" x2="553.6" y2="477.2" stroke="#333" stroke-width="0.8" /><text x="549" y="480" font-size="7.7" text-anchor="end" fill="#111" >40</text><line x1="551.6" y1="452.83" x2="553.6" y2="452.83" stroke="#333" stroke-width="0.8" /><line x1="551.6" y1="428.45" x2="553.6" y2="428.45" stroke="#333" stroke-width="0.8" /><text x="549" y="431.25" font-size="7.7" text-anchor="end" fill="#111" >60</text><line x1="551.6" y1="404.08" x2="553.6" y2="404.08" stroke="#333" stroke-width="0.8" /><line x1="551.6" y1="379.7" x2="553.6" y2="379.7" stroke="#333" stroke-width="0.8" /><text x="549" y="382.5" font-size="7.7" text-anchor="end" fill="#111" >80</text><line x1="551.6" y1="355.33" x2="553.6" y2="355.33" stroke="#333" stroke-width="0.8" /><line x1="551.6" y1="330.95" x2="553.6" y2="330.95" stroke="#333" stroke-width="0.8" /><text x="549" y="333.75" font-size="7.7" text-anchor="end" fill="#111" >100</text><line x1="572.25" y1="574.7" x2="572.25" y2="572.7" stroke="#333" stroke-width="0.8" /><line x1="609" y1="574.7" x2="609" y2="572.7" stroke="#333" stroke-width="0.8" /><line x1="647.85" y1="574.7" x2="647.85" y2="572.7" stroke="#333" stroke-width="0.8" /><text x="440.4" y="287.9" font-size="9.3" text-anchor="middle" fill="#111" >FI Cells</text><text x="605" y="287.9" font-size="9.3" text-anchor="middle" fill="#111" >FS Cells</text><polygon points="572,293.4 572.71,295.33 574.76,295.4 573.14,296.67 573.7,298.65 572,297.5 570.3,298.65 570.86,296.67 569.24,295.4 571.29,295.33" fill="#111"/><polygon points="609.2,293.4 609.91,295.33 611.96,295.4 610.34,296.67 610.9,298.65 609.2,297.5 607.5,298.65 608.06,296.67 606.44,295.4 608.49,295.33" fill="#111"/><polygon points="645,293.4 645.71,295.33 647.76,295.4 646.14,296.67 646.7,298.65 645,297.5 643.3,298.65 643.86,296.67 642.24,295.4 644.29,295.33" fill="#111"/><polygon points="650.4,293.4 651.11,295.33 653.16,295.4 651.54,296.67 652.1,298.65 650.4,297.5 648.7,298.65 649.26,296.67 647.64,295.4 649.69,295.33" fill="#111"/><text x="411.2" y="587.8" font-size="7.7" text-anchor="middle" fill="#111" >Day 1</text><text x="448.3" y="587.8" font-size="7.7" text-anchor="middle" fill="#111" >Day 2</text><text x="486.9" y="587.8" font-size="7.7" text-anchor="middle" fill="#111" >Day 3</text><text x="572.2" y="588.1" font-size="7.7" text-anchor="middle" fill="#111" >Day 1</text><text x="609" y="588.1" font-size="7.7" text-anchor="middle" fill="#111" >Day 2</text><text x="647.8" y="588.1" font-size="7.7" text-anchor="middle" fill="#111" >Day 3</text><text transform="translate(360.6,450.6) rotate(-90)" font-size="9.3" text-anchor="middle" fill="#111">Percent Context Predicted</text><circle cx="585.5" cy="613.6" r="2.4" fill="none" stroke="#333" stroke-width="0.9"/><text x="593.3" y="616.8" font-size="9.5" text-anchor="start" fill="#111" >individual mouse data</text></svg></body></html>
